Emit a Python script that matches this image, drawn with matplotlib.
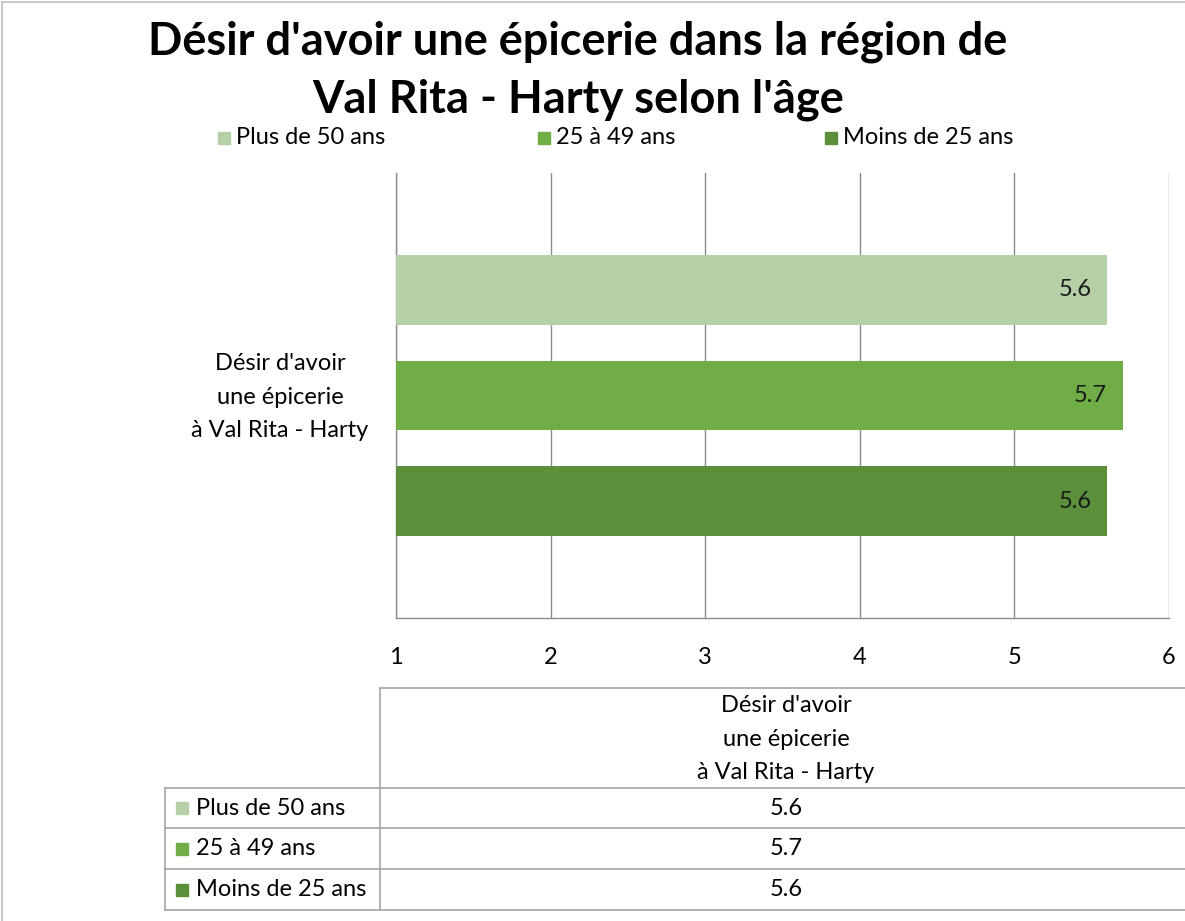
import matplotlib
matplotlib.use("Agg")
import matplotlib.pyplot as plt
from matplotlib.patches import Rectangle
from matplotlib.lines import Line2D

# ---- data ----
title = "Désir d'avoir une épicerie dans la région de\nVal Rita - Harty selon l'âge"
category = "Désir d'avoir\nune épicerie\nà Val Rita - Harty"
series_names = ["Plus de 50 ans", "25 à 49 ans", "Moins de 25 ans"]
values = [5.6, 5.7, 5.6]
colors = ["#B5CFA7", "#70AD47", "#5B8F3A"]
xticks = [1, 2, 3, 4, 5, 6]

FONT = "Lato"
plt.rcParams["font.family"] = [FONT, "DejaVu Sans"]
FS = 17

W, H = 1185, 921
fig = plt.figure(figsize=(W / 100, H / 100), dpi=100)

def fx(px):
    return px / W

def fy(py):
    return 1 - py / H

# main axes (pixel box 396..1169 x 173..618)
ax = fig.add_axes([fx(396), fy(618), fx(1169) - fx(396), (618 - 173) / H])
ax.set_xlim(1, 6)
ax.set_ylim(0, 1)
offsets = [0.238, 0.0, -0.238]
bar_h = 0.157
for name, v, c, off in zip(series_names, values, colors, offsets):
    ax.barh(0.5 + off, v - 1, left=1, height=bar_h, color=c, zorder=3)
    ax.text(v - 0.1, 0.5 + off, f"{v:.1f}", ha="right", va="center",
            fontsize=FS, color="#1a1a1a", zorder=4)
ax.set_xticks(xticks)
ax.set_xticklabels([str(t) for t in xticks], fontsize=FS)
ax.tick_params(axis="x", length=0, pad=21)
ax.set_yticks([])
ax.grid(axis="x", color="#8C8C8C", linewidth=1.0, zorder=0)
for s in ["top", "right"]:
    ax.spines[s].set_visible(False)
for s in ["left", "bottom"]:
    ax.spines[s].set_color("#8C8C8C")
    ax.spines[s].set_linewidth(1.0)

# overlay for title, legend, table, frame
ov = fig.add_axes([0, 0, 1, 1], zorder=10)
ov.set_xlim(0, W)
ov.set_ylim(H, 0)
ov.axis("off")
ov.patch.set_alpha(0)

ov.text(578, 71, title, ha="center", va="center", fontsize=32.5, fontweight="bold",
        linespacing=1.46)

# category label
ov.text(280, 397, category, ha="center", va="center", fontsize=FS,
        linespacing=1.72, multialignment="center")

# legend
leg_x = [218, 538, 825]
for name, c, x in zip(series_names, colors, leg_x):
    ov.add_patch(Rectangle((x, 132), 12, 12, color=c))
    ov.text(x + 18, 138, name, ha="left", va="center", fontsize=FS)

# frame lines
lc = "#A6A6A6"
ov.add_line(Line2D([2, W], [2, 2], color="#BFBFBF", lw=1.2))
ov.add_line(Line2D([2, 2], [2, H], color="#BFBFBF", lw=1.2))

# data table
ov.add_line(Line2D([380, W], [688, 688], color=lc, lw=1.2))
ov.add_line(Line2D([380, 380], [688, 910], color=lc, lw=1.2))
ov.add_line(Line2D([165, 165], [788, 910], color=lc, lw=1.2))
row_y = [788, 828, 869, 910]
for y in row_y:
    ov.add_line(Line2D([165, W], [y, y], color=lc, lw=1.2))
ov.text(786, 739, category, ha="center", va="center", fontsize=FS, linespacing=1.72)
for i, (name, v, c) in enumerate(zip(series_names, values, colors)):
    yc = (row_y[i] + row_y[i + 1]) / 2
    ov.add_patch(Rectangle((176, yc - 6), 12, 12, color=c))
    ov.text(196, yc, name, ha="left", va="center", fontsize=FS)
    ov.text(786, yc, f"{v:.1f}", ha="center", va="center", fontsize=FS)

fig.savefig("out.png", dpi=100)
